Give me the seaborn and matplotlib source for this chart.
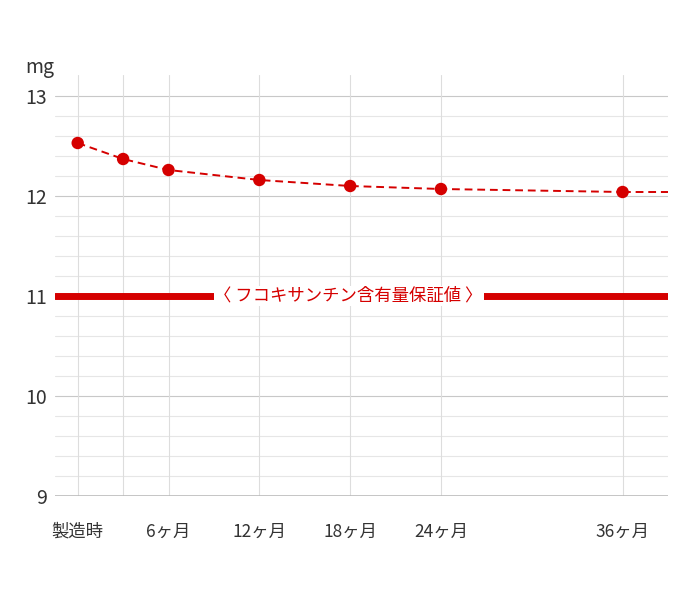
import numpy as np
import seaborn as sns
import matplotlib.pyplot as plt

months = [0, 3, 6, 12, 18, 24, 36]
values = [12.53, 12.37, 12.26, 12.16, 12.10, 12.07, 12.04]
tail_months = [36, 39]
tail_values = [12.04, 12.04]
tick_months = [0, 6, 12, 18, 24, 36]
tick_labels = ["製造時", "6ヶ月", "12ヶ月", "18ヶ月", "24ヶ月", "36ヶ月"]
grid_months = [0, 3, 6, 12, 18, 24, 36]
guarantee = 11
guarantee_label = "〈 フコキサンチン含有量保証値 〉"

sns.set_style("white")
plt.rcParams["font.family"] = ["Noto Sans CJK JP", "DejaVu Sans"]

fig = plt.figure(figsize=(7, 6), dpi=100)
ax = fig.add_axes([55 / 700, 104 / 600, 613 / 700, 421 / 600])
ax.set_xlim(-1.5, 39)
ax.set_ylim(9, 13.21)

for y in np.arange(9.2, 13.01, 0.2):
    major = abs(y - round(y)) < 1e-6
    ax.axhline(y, color="#c8c8c8" if major else "#e6e6e6", lw=0.8, zorder=0)
for m in grid_months:
    ax.axvline(m, color="#dddddd", lw=0.8, zorder=0)
ax.axhline(9.003, color="#bbbbbb", lw=1.2, zorder=1)

ax.axhline(guarantee, color="#d50000", lw=5, zorder=2)
ax.text(17.9, guarantee, guarantee_label, color="#d50000", fontsize=12.5,
        ha="center", va="center", zorder=3,
        bbox=dict(facecolor="white", edgecolor="none", pad=0.5))

sns.lineplot(x=months, y=values, ax=ax, color="#d50000", lw=1.4,
             linestyle=(0, (4, 2.5)), zorder=4)
ax.plot(tail_months, tail_values, color="#d50000", lw=1.4,
        linestyle=(0, (4, 2.5)), zorder=4)
sns.scatterplot(x=months, y=values, ax=ax, color="#d50000", s=80,
                edgecolor="none", zorder=5)

ax.set_xticks(tick_months)
ax.set_xticklabels(tick_labels, fontsize=12.5, color="#333333")
ax.set_yticks([9, 10, 11, 12, 13])
ax.set_yticklabels(["9", "10", "11", "12", "13"], fontsize=14, color="#333333")
ax.tick_params(axis="x", length=0, pad=19)
ax.tick_params(axis="y", length=0, pad=6)
for s in ax.spines.values():
    s.set_visible(False)
fig.text(40 / 700, 1 - 67 / 600, "mg", fontsize=14, color="#333333",
         ha="center", va="center")

fig.savefig("out.png", dpi=100)
